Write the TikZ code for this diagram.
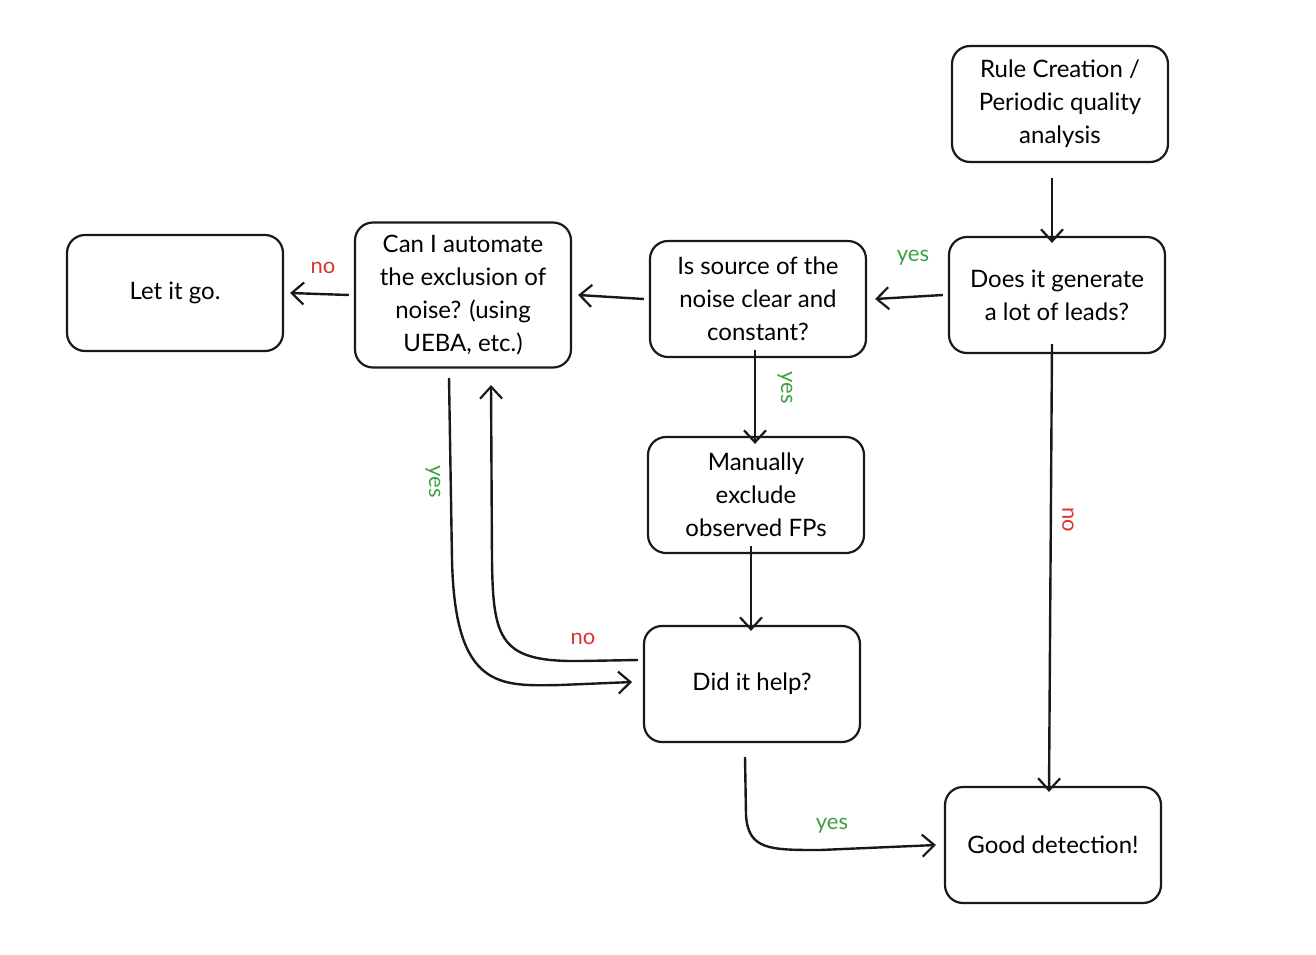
\documentclass[tikz,border=0pt]{standalone}
\usepackage{fontspec}
\setmainfont{Lato}
\usetikzlibrary{arrows.meta}
\definecolor{gr}{RGB}{64,160,64}
\definecolor{rd}{RGB}{220,50,50}
\begin{document}
\begin{tikzpicture}[x=1pt,y=-1pt,
  box/.style={draw=black!90,line width=2.2pt,rounded corners=18pt,minimum width=216pt,minimum height=116pt,align=center,font=\fontsize{24}{33}\selectfont,inner sep=2pt},
  arr/.style={line width=2.4pt,draw=black!90,-{Straight Barb[length=12pt,width=22pt,line width=2.2pt]}},
  yl/.style={text=gr,font=\fontsize{22}{26}\selectfont},
  nl/.style={text=rd,font=\fontsize{22}{26}\selectfont}]
\useasboundingbox (0,0) rectangle (1316,954);
\node[box] (rule) at (1060,104) {Rule Creation /\\Periodic quality\\analysis};
\node[box] (does) at (1057,295) {Does it generate\\a lot of leads?};
\node[box] (is) at (758,299) {Is source of the\\noise clear and\\constant?};
\node[box,minimum height=145pt] (can) at (463,295) {Can I automate\\the exclusion of\\noise? (using\\UEBA, etc.)};
\node[box] (let) at (175,293) {Let it go.};
\node[box] (man) at (756,495) {Manually\\exclude\\observed FPs};
\node[box] (did) at (752,684) {Did it help?};
\node[box] (good) at (1053,845) {Good detection!};

\draw[arr] (rule.south -| 1052,0) ++(0,15) -- ([yshift=-7pt]does.north -| 1052,0);
\draw[arr] ([xshift=-5pt]does.west) -- ([xshift=8pt]is.west -| is.east);
\node[yl] at (913,258) {yes};
\draw[arr] ([xshift=-5pt]is.west) -- ([xshift=6pt]can.east);
\draw[arr] ([xshift=-5pt]can.west) -- ([xshift=6pt]let.east);
\node[nl] at (323,268) {no};
\draw[arr] ([yshift=8pt]is.south -| 755,0) -- ([yshift=-8pt]man.north -| 755,0);
\node[yl,rotate=-90] at (785,388) {yes};
\draw[arr] ([yshift=8pt]man.south -| 751,0) -- ([yshift=-6pt]did.north -| 751,0);
\draw[arr] ([yshift=10pt]does.south -| 1052,0) -- ([yshift=-6pt]good.north -| 1049,0);
\node[nl,rotate=-90] at (1068,520) {no};
\coordinate (c1) at (449,378);
\coordinate (c2) at (632,682);
\draw[arr] (c1) -- (452,560) .. controls (455,690) and (500,686) .. (560,685) -- (c2);
\node[yl,rotate=-90] at (433,482) {yes};
\coordinate (d1) at (638,660);
\coordinate (d2) at (491,385);
\draw[arr] (d1) -- (580,661) .. controls (500,662) and (493,640) .. (492,560) -- (d2);
\node[nl] at (583,639) {no};
\coordinate (e1) at (745,757);
\draw[arr] (e1) -- (746,815) .. controls (748,850) and (770,850) .. (820,850) -- ([xshift=-8pt]good.west);
\node[yl] at (832,826) {yes};
\end{tikzpicture}
\end{document}
